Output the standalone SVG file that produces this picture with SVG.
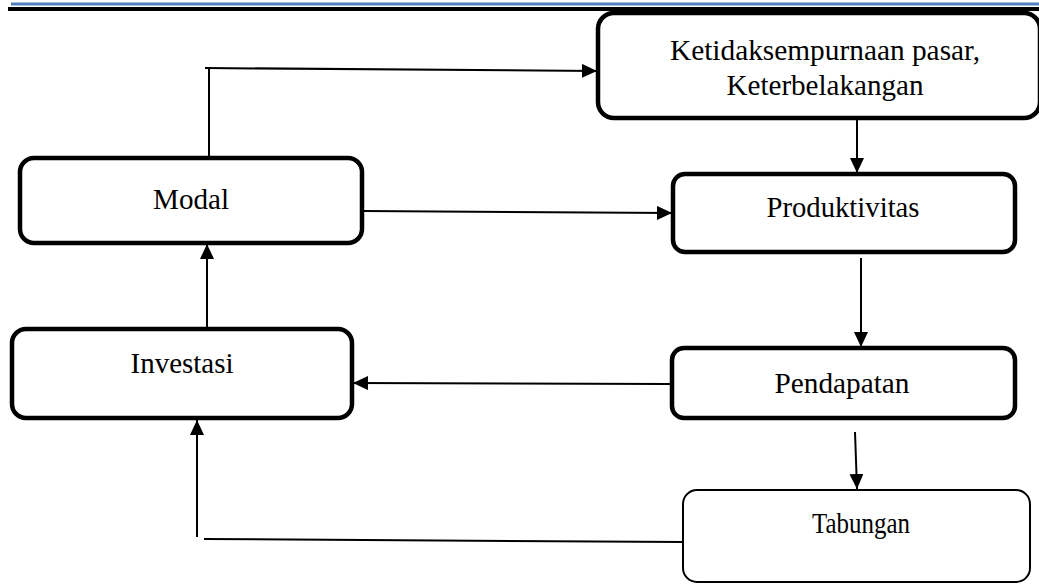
<svg xmlns="http://www.w3.org/2000/svg" width="1039" height="584" viewBox="0 0 1039 584">
<style>
.box{fill:#fff;stroke:#000;stroke-width:4.5}
.thin{fill:#fff;stroke:#000;stroke-width:2}
.lbl{font-family:"Liberation Serif","Times New Roman",serif;font-size:30px;fill:#000;text-anchor:middle}
.con{fill:none;stroke:#000;stroke-width:2}
</style>
<defs>
<marker id="ah" viewBox="0 0 15 14" refX="15" refY="7" markerWidth="15" markerHeight="14" markerUnits="userSpaceOnUse" orient="auto">
<path d="M0,0 L15,7 L0,14 Z" fill="#000"/>
</marker>
</defs>
<g id="header">
<line x1="11" y1="4" x2="1039" y2="4" stroke="#4F81BD" stroke-width="3"/>
<line x1="8" y1="9" x2="1039" y2="9" stroke="#000" stroke-width="4"/>
</g>
<g id="connectors">
<polyline class="con" points="209,158 209,68 205,68"/>
<line class="con" x1="205" y1="68" x2="597" y2="71" marker-end="url(#ah)"/>
<line class="con" x1="857" y1="119" x2="857" y2="173" marker-end="url(#ah)"/>
<line class="con" x1="364" y1="211" x2="672" y2="213" marker-end="url(#ah)"/>
<line class="con" x1="861" y1="258" x2="861" y2="347" marker-end="url(#ah)"/>
<line class="con" x1="670" y1="384" x2="353" y2="383" marker-end="url(#ah)"/>
<line class="con" x1="207" y1="329" x2="207" y2="244" marker-end="url(#ah)"/>
<line class="con" x1="855" y1="432" x2="857" y2="489" marker-end="url(#ah)"/>
<line class="con" x1="204" y1="539" x2="683" y2="542"/>
<line class="con" x1="197" y1="537" x2="197" y2="420" marker-end="url(#ah)"/>
</g>
<g id="node-ketidaksempurnaan">
<rect class="box" x="598" y="13" width="442" height="105" rx="16"/>
<text class="lbl" x="825" y="60" textLength="310" lengthAdjust="spacingAndGlyphs">Ketidaksempurnaan pasar,</text>
<text class="lbl" x="825" y="95" textLength="197" lengthAdjust="spacingAndGlyphs">Keterbelakangan</text>
</g>
<g id="node-modal">
<rect class="box" x="20" y="158" width="342" height="85" rx="14"/>
<text class="lbl" x="191" y="209" textLength="76" lengthAdjust="spacingAndGlyphs">Modal</text>
</g>
<g id="node-produktivitas">
<rect class="box" x="673" y="174" width="342" height="78" rx="12"/>
<text class="lbl" x="843" y="217" textLength="153" lengthAdjust="spacingAndGlyphs">Produktivitas</text>
</g>
<g id="node-investasi">
<rect class="box" x="12" y="329" width="340" height="89" rx="14"/>
<text class="lbl" x="182" y="373" textLength="103" lengthAdjust="spacingAndGlyphs">Investasi</text>
</g>
<g id="node-pendapatan">
<rect class="box" x="672" y="348" width="343" height="70" rx="12"/>
<text class="lbl" x="842" y="393" textLength="135" lengthAdjust="spacingAndGlyphs">Pendapatan</text>
</g>
<g id="node-tabungan">
<rect class="thin" x="683" y="490" width="347" height="92" rx="14"/>
<text class="lbl" x="861" y="533" textLength="98" lengthAdjust="spacingAndGlyphs">Tabungan</text>
</g>
</svg>
